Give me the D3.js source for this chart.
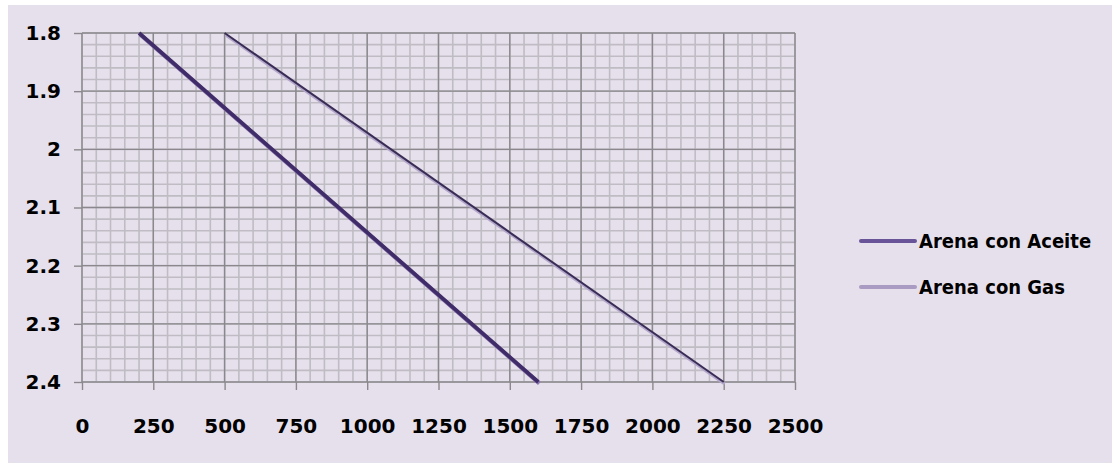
<!DOCTYPE html>
<html>
<head>
<meta charset="utf-8">
<script src="https://cdn.jsdelivr.net/npm/d3@7"></script>
<style>
  body { margin: 0; background: #fff; }
  .tick text { font-family: "DejaVu Sans", sans-serif; font-weight: bold; font-size: 20px; fill: #000; }
  .legend text { font-family: "DejaVu Sans Condensed", "DejaVu Sans", sans-serif; font-weight: bold; font-size: 20px; fill: #000; }
</style>
</head>
<body>
<script>
//// DATA
var xTicks = [0, 250, 500, 750, 1000, 1250, 1500, 1750, 2000, 2250, 2500];
var yTicks = [1.8, 1.9, 2, 2.1, 2.2, 2.3, 2.4];
var seriesNames = ["Arena con Aceite", "Arena con Gas"];
// velocity (x) vs density (y)
var aceiteX = [200, 1600],
    aceiteY = [1.8, 2.4];
var gasX = [500, 2250],
    gasY = [1.8, 2.4];

//// DIMENSIONS
var W = 1112, H = 463;
var margin = {top: 33, left: 82},
    width = 713,
    height = 349;

var svg = d3.select("body").append("svg")
    .attr("width", W)
    .attr("height", H);

// chart area background (white strip at top and left)
svg.append("rect")
    .attr("x", 8).attr("y", 5)
    .attr("width", W - 8).attr("height", H - 5)
    .attr("fill", "#E6E0EC");

var g = svg.append("g")
    .attr("transform", "translate(" + margin.left + "," + margin.top + ")");

var x = d3.scaleLinear().domain([0, 2500]).range([0, width]);
var y = d3.scaleLinear().domain([1.8, 2.4]).range([0, height]);

// Minor grid
g.selectAll(".minor.x")
    .data(d3.range(0, 2501, 50))
  .enter().append("line")
    .attr("x1", x).attr("x2", x)
    .attr("y1", 0).attr("y2", height)
    .attr("stroke", "#BFBCC3").attr("stroke-width", 1.6);
g.selectAll(".minor.y")
    .data(d3.range(0, 31).map(function(i) { return 1.8 + i * 0.02; }))
  .enter().append("line")
    .attr("y1", y).attr("y2", y)
    .attr("x1", 0).attr("x2", width)
    .attr("stroke", "#BFBCC3").attr("stroke-width", 1.6);

// Major grid
g.selectAll(".major.x")
    .data(xTicks)
  .enter().append("line")
    .attr("x1", x).attr("x2", x)
    .attr("y1", 0).attr("y2", height)
    .attr("stroke", "#8A888C").attr("stroke-width", 1.4);
g.selectAll(".major.y")
    .data(yTicks)
  .enter().append("line")
    .attr("y1", y).attr("y2", y)
    .attr("x1", 0).attr("x2", width)
    .attr("stroke", "#8A888C").attr("stroke-width", 1.4);

// Axes
var xAxis = d3.axisBottom(x).tickValues(xTicks).tickSize(8).tickPadding(29)
    .tickFormat(d3.format("d"));
var yAxis = d3.axisLeft(y).tickValues(yTicks).tickSize(8).tickPadding(13)
    .tickFormat(function(d) { return d3.format("")(d); });

g.append("g")
    .attr("transform", "translate(0," + height + ")")
    .call(xAxis)
    .call(function(s) {
      s.select(".domain").remove();
      s.selectAll(".tick line").attr("stroke", "#8A888C").attr("stroke-width", 1.4);
    });
g.append("g")
    .call(yAxis)
    .call(function(s) {
      s.select(".domain").remove();
      s.selectAll(".tick line").attr("stroke", "#8A888C").attr("stroke-width", 1.4);
    });

// Lines
var line = d3.line()
    .x(function(d) { return x(d[0]); })
    .y(function(d) { return y(d[1]); });

var aceite = d3.zip(aceiteX, aceiteY),
    gas = d3.zip(gasX, gasY);

// shadows
g.append("path").datum(gas).attr("d", line)
    .attr("transform", "translate(1,2)")
    .attr("fill", "none").attr("stroke", "#B3A6CB").attr("stroke-width", 3);
g.append("path").datum(gas).attr("d", line)
    .attr("fill", "none").attr("stroke", "#3A2D55").attr("stroke-width", 2);

g.append("path").datum(aceite).attr("d", line)
    .attr("transform", "translate(1,1.5)")
    .attr("fill", "none").attr("stroke", "#8A76B0").attr("stroke-width", 4);
g.append("path").datum(aceite).attr("d", line)
    .attr("fill", "none").attr("stroke", "#3F2C68").attr("stroke-width", 3.8);

// Legend
var legend = svg.append("g").attr("class", "legend")
    .attr("transform", "translate(861,241)");
var legendColors = ["#6A5499", "#A99BC2"];
seriesNames.forEach(function(name, i) {
  var row = legend.append("g").attr("transform", "translate(0," + (i * 46) + ")");
  row.append("line")
      .attr("x1", 0).attr("x2", 54)
      .attr("stroke", legendColors[i]).attr("stroke-width", 4)
      .attr("stroke-linecap", "round");
  row.append("text")
      .attr("x", 58).attr("dy", "0.35em")
      .text(name);
});
</script>
</body>
</html>
